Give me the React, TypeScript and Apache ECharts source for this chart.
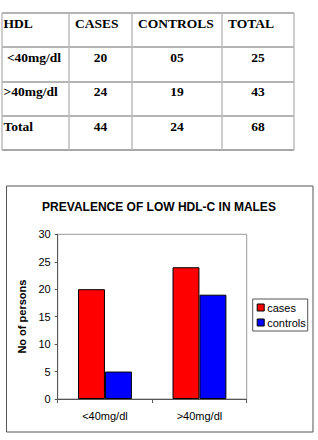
import React, { useEffect, useRef } from "react";
import * as echarts from "echarts";

// Table data
const tableHeaders = ["HDL", "CASES", "CONTROLS", "TOTAL"];
const rowLabels = [" <40mg/dl", ">40mg/dl", "Total"];
const casesCol = ["20", "24", "44"];
const controlsCol = ["05", "19", "24"];
const totalCol = ["25", "43", "68"];

// Chart data
const chartTitle = "PREVALENCE OF LOW HDL-C IN MALES";
const categories = ["<40mg/dl", ">40mg/dl"];
const casesValues = [20, 24];
const controlsValues = [5, 19];
const seriesNames = ["cases", "controls"];
const yAxisName = "No of persons";

const SERIF = '"Liberation Serif", "Times New Roman", serif';
const SANS = '"Liberation Sans", Arial, sans-serif';

function txt(x: number, y: number, text: string, align: string, font: string) {
  return {
    type: "text",
    x,
    y,
    silent: true,
    style: {
      text,
      align,
      textAlign: align,
      verticalAlign: "middle",
      textVerticalAlign: "middle",
      font,
      fill: "#000",
    },
  };
}

function hline(x1: number, x2: number, y: number, color: string, w: number) {
  return { type: "line", silent: true, shape: { x1, y1: y, x2, y2: y }, style: { stroke: color, lineWidth: w } };
}
function vline(x: number, y1: number, y2: number, color: string, w: number) {
  return { type: "line", silent: true, shape: { x1: x, y1, x2: x, y2 }, style: { stroke: color, lineWidth: w } };
}

export default function App() {
  const ref = useRef<HTMLDivElement>(null);
  useEffect(() => {
    if (!ref.current) return;
    const chart = echarts.init(ref.current, undefined, { renderer: "svg" });

    const colX = [2, 69, 132, 222, 294];
    const rowY = [13, 47, 82, 116, 150];
    const textY = [23.3, 57.3, 91, 126];
    const headFont = `bold 13.5px ${SERIF}`;
    const elements: any[] = [];
    // table lines
    elements.push(hline(colX[0], colX[4], rowY[0], "#9a9a9a", 1.5));
    elements.push(hline(colX[0], colX[4], rowY[4], "#8a8a8a", 1.5));
    for (let i = 1; i < 4; i++) elements.push(hline(colX[0], colX[4], rowY[i], "#6a6a6a", 1));
    for (let i = 0; i < 5; i++) elements.push(vline(colX[i], rowY[0], rowY[4], "#bdbdbd", 1.5));
    // header
    elements.push(txt(3.5, textY[0], tableHeaders[0], "left", headFont));
    for (let c = 1; c < 4; c++) elements.push(txt(colX[c] + 6, textY[0], tableHeaders[c], "left", headFont));
    const centers = [(colX[1] + colX[2]) / 2, (colX[2] + colX[3]) / 2, (colX[3] + colX[4]) / 2];
    for (let r = 0; r < 3; r++) {
      elements.push(txt(3.5, textY[r + 1], rowLabels[r], "left", headFont));
      elements.push(txt(centers[0], textY[r + 1], casesCol[r], "center", headFont));
      elements.push(txt(centers[1], textY[r + 1], controlsCol[r], "center", headFont));
      elements.push(txt(centers[2], textY[r + 1], totalCol[r], "center", headFont));
    }
    // chart border
    elements.push({
      type: "rect",
      silent: true,
      shape: { x: 6.5, y: 186, width: 306.5, height: 246 },
      style: { fill: "none", stroke: "#555", lineWidth: 1 },
      z: -1,
    });

    chart.setOption({
      animation: false,
      backgroundColor: "#fff",
      title: {
        text: chartTitle,
        left: "center",
        top: 196,
        textStyle: { fontFamily: SANS, fontSize: 12, fontWeight: "bold", color: "#000" },
      },
      grid: {
        left: 57.7,
        right: 71.3,
        top: 234.3,
        bottom: 41,
        show: true,
        borderColor: "#999",
        borderWidth: 1,
        backgroundColor: "transparent",
      },
      legend: {
        orient: "vertical",
        left: 252.7,
        top: 299,
        data: seriesNames,
        icon: "rect",
        itemWidth: 7,
        itemHeight: 7,
        itemGap: 4,
        padding: [3, 2, 3, 4],
        borderColor: "#555",
        borderWidth: 1,
        itemStyle: { borderColor: "#000", borderWidth: 1 },
        textStyle: { fontFamily: SANS, fontSize: 11, color: "#000", padding: [0, 0, 0, -2] },
      },
      xAxis: {
        type: "category",
        data: categories,
        axisLine: { show: true, lineStyle: { color: "#555", width: 1 } },
        axisTick: { show: true, length: 4, lineStyle: { color: "#555" } },
        axisLabel: { fontFamily: SANS, fontSize: 11, color: "#000", margin: 11 },
        splitLine: { show: false },
      },
      yAxis: {
        type: "value",
        min: 0,
        max: 30,
        interval: 5,
        name: yAxisName,
        nameLocation: "middle",
        nameRotate: 90,
        nameGap: 27,
        nameTextStyle: { fontFamily: SANS, fontSize: 11, fontWeight: "bold", color: "#000" },
        axisLine: { show: true, lineStyle: { color: "#555", width: 1 } },
        axisTick: { show: true, length: 3, lineStyle: { color: "#555" } },
        axisLabel: { fontFamily: SANS, fontSize: 11, color: "#000", margin: 7 },
        splitLine: { show: false },
      },
      series: [
        {
          name: seriesNames[0],
          type: "bar",
          data: casesValues,
          barGap: "0%",
          barCategoryGap: "43%",
          itemStyle: { color: "#ff0000", borderColor: "#000", borderWidth: 1 },
        },
        {
          name: seriesNames[1],
          type: "bar",
          data: controlsValues,
          barGap: "0%",
          barCategoryGap: "43%",
          itemStyle: { color: "#0000ff", borderColor: "#000", borderWidth: 1 },
        },
      ],
      graphic: { elements },
    });
    return () => chart.dispose();
  }, []);
  return (
    <div
      ref={ref}
      style={{ position: "absolute", left: 0, top: 0, width: 318, height: 440, background: "#fff" }}
    />
  );
}
